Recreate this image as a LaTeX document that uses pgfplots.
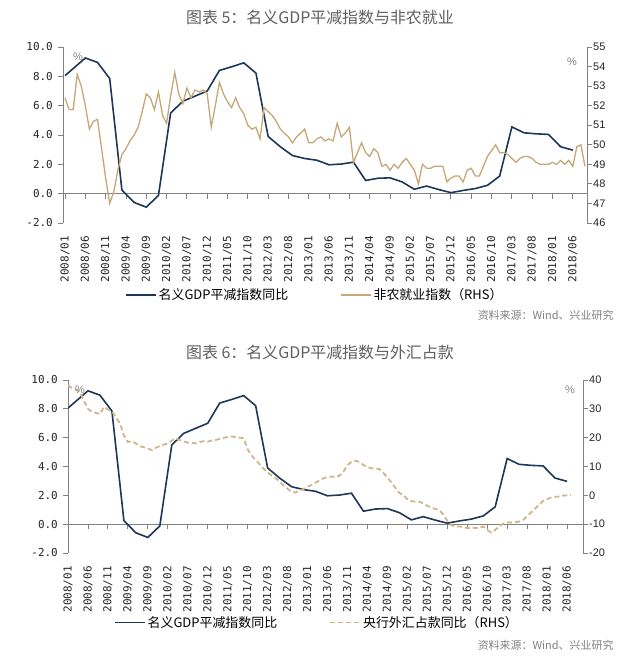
\documentclass[border=0pt]{standalone}
\usepackage{fontspec}
\setmainfont{Liberation Sans}
\newfontfamily\cjk{Noto Sans CJK SC}
\newfontfamily\mono{DejaVu Sans Mono}
\usepackage{pgfplots}
\usepackage{pgfplotstable}
\pgfplotsset{compat=1.18}

\definecolor{navy}{RGB}{30,55,86}
\definecolor{tan}{RGB}{198,167,118}
\definecolor{tandash}{RGB}{206,182,138}
\definecolor{axgray}{RGB}{130,130,130}
\definecolor{titlegray}{RGB}{95,95,95}

% GDP deflator yoy, quarterly, x = months since 2008/01
\pgfplotstableread{
m v
0 8.05
5 9.25
8 8.95
11 7.85
14 0.25
17 -0.60
20 -0.92
23 -0.12
26 5.50
29 6.30
32 6.65
35 7.00
38 8.40
41 8.65
44 8.92
47 8.22
50 3.90
53 3.20
56 2.60
59 2.40
62 2.28
65 1.97
68 2.02
71 2.15
74 0.90
77 1.05
80 1.08
83 0.80
86 0.30
89 0.52
92 0.28
95 0.07
98 0.22
101 0.35
104 0.57
107 1.20
110 4.55
113 4.15
116 4.08
119 4.04
122 3.20
125 2.97
}\deflator

% non-farm index (RHS), monthly
\pgfplotstableread{
m v
0 52.4
1 51.8
2 51.8
3 53.6
4 53.0
5 52.0
6 50.8
7 51.2
8 51.3
9 49.8
10 48.3
11 47.0
12 47.6
13 48.7
14 49.5
15 49.8
16 50.2
17 50.5
18 50.9
19 51.7
20 52.6
21 52.4
22 51.8
23 52.7
24 51.5
25 51.1
26 52.5
27 53.7
28 52.6
29 52.1
30 52.9
31 52.4
32 52.8
33 52.7
34 52.8
35 52.6
36 50.9
37 52.0
38 53.2
39 52.6
40 52.2
41 51.9
42 52.4
43 51.9
44 51.6
45 51.0
46 50.8
47 50.9
48 50.3
49 51.9
50 51.7
51 51.5
52 51.2
53 50.8
54 50.6
55 50.4
56 50.1
57 50.4
58 50.6
59 50.8
60 50.1
61 50.1
62 50.3
63 50.4
64 50.2
65 50.3
66 50.2
67 51.1
68 50.4
69 50.6
70 50.9
71 49.1
72 49.6
73 50.1
74 49.6
75 49.4
76 49.8
77 49.6
78 48.9
79 49.0
80 48.7
81 49.0
82 48.8
83 49.1
84 49.3
85 49.0
86 48.7
87 48.0
88 49.0
89 48.8
90 48.8
91 48.9
92 48.9
93 48.9
94 48.1
95 48.3
96 48.4
97 48.4
98 48.1
99 48.7
100 48.8
101 48.4
102 48.4
103 48.9
104 49.4
105 49.7
106 50.0
107 49.6
108 49.6
109 49.5
110 49.3
111 49.1
112 49.3
113 49.4
114 49.4
115 49.3
116 49.1
117 49.0
118 49.0
119 49.0
120 49.1
121 49.0
122 49.2
123 49.0
124 49.2
125 48.9
126 49.9
127 50.0
128 48.9
}\pmi

% central bank FX holdings yoy (RHS), monthly
\pgfplotstableread{
m v
0 38.2
1 37.2
2 36.5
3 35.9
4 32.8
5 30.0
6 29.0
7 28.6
8 28.2
9 30.7
10 29.8
11 29.2
12 27.0
13 25.0
14 20.8
15 18.5
16 18.8
17 18.0
18 17.0
19 16.7
20 16.2
21 15.7
22 16.5
23 17.1
24 17.6
25 18.0
26 19.0
27 19.8
28 19.2
29 18.7
30 18.3
31 18.2
32 18.0
33 18.5
34 18.8
35 18.6
36 19.0
37 19.2
38 19.6
39 19.9
40 20.3
41 20.4
42 20.2
43 20.0
44 19.8
45 16.0
46 13.8
47 12.3
48 10.8
49 9.2
50 8.0
51 6.8
52 5.9
53 4.8
54 3.4
55 2.3
56 1.1
57 1.0
58 1.6
59 2.2
60 3.0
61 3.6
62 4.4
63 5.2
64 5.9
65 6.4
66 6.5
67 6.3
68 6.8
69 8.2
70 10.5
71 11.6
72 12.0
73 11.6
74 10.5
75 9.8
76 9.4
77 9.3
78 9.1
79 7.8
80 6.2
81 4.5
82 2.6
83 0.8
84 0.1
85 -1.4
86 -2.0
87 -2.2
88 -2.2
89 -2.8
90 -3.6
91 -4.3
92 -4.7
93 -5.1
94 -6.6
95 -8.8
96 -10.3
97 -10.8
98 -10.8
99 -11.0
100 -11.4
101 -11.2
102 -11.3
103 -11.4
104 -10.8
105 -12.0
106 -12.9
107 -12.0
108 -10.8
109 -9.8
110 -9.4
111 -9.4
112 -9.3
113 -9.1
114 -8.5
115 -7.3
116 -5.9
117 -4.6
118 -3.3
119 -1.9
120 -1.3
121 -0.8
122 -0.5
123 -0.4
124 -0.1
125 0.0
126 0.1
}\fx

\pgfplotsset{
  leftax/.style={
    scale only axis,
    axis y line*=left, axis x line*=bottom,
    x axis line style={draw=none},
    y axis line style={draw=axgray, line width=0.9bp},
    xtick={0,5,...,125},
    xticklabels={2008/01,2008/06,2008/11,2009/04,2009/09,2010/02,2010/07,2010/12,2011/05,2011/10,2012/03,2012/08,2013/01,2013/06,2013/11,2014/04,2014/09,2015/02,2015/07,2015/12,2016/05,2016/10,2017/03,2017/08,2018/01,2018/06},
    xtick style={draw=none},
    xticklabel style={rotate=90, anchor=east, inner sep=0pt, font=\mono\fontsize{11}{11}\selectfont, text=black!85},
    xticklabel shift=8bp,
    ytick style={draw=axgray, line width=0.9bp},
    tick align=outside,
    major tick length=5bp,
    yticklabel style={inner sep=0pt, font=\mono\fontsize{11}{11}\selectfont, text=black!85},
    yticklabel shift=5bp,
    unbounded coords=jump,
    /pgf/number format/fixed,
    /pgf/number format/fixed zerofill,
    /pgf/number format/precision=1,
    /pgf/number format/assume math mode=true,
  },
  rightax/.style={
    scale only axis,
    axis y line*=right, axis x line=none,
    y axis line style={draw=axgray, line width=0.9bp},
    ytick style={draw=axgray, line width=0.9bp},
    tick align=outside,
    major tick length=5bp,
    yticklabel style={inner sep=0pt, font=\fontsize{11}{11}\selectfont, text=black!85},
    yticklabel shift=1bp,
    /pgf/number format/assume math mode=true,
    legend columns=2,
    legend image code/.code={\draw[##1] (0bp,0bp) -- (30bp,0bp);},
    legend style={draw=none, fill=none, inner sep=0pt,
      font=\cjk\fontsize{13}{13}\selectfont,
      /tikz/every even column/.append style={column sep=50bp}},
  },
  zeroticks/.style={axgray, line width=0.9bp, no marks, forget plot},
}

\begin{document}
\begin{tikzpicture}
\path[use as bounding box] (0,0) rectangle (640bp,-664bp);

% ---------- chart 5 ----------
\node[font=\cjk\fontsize{16}{16}\selectfont, text=titlegray] at (320bp,-17bp) {图表 5：名义GDP平减指数与非农就业};

\begin{axis}[leftax, at={(63bp,-223bp)}, anchor=south west,
  width=524bp, height=176bp,
  xmin=-0.5, xmax=128.5, ymin=-2, ymax=10, ytick={-2,0,...,10}]
  \addplot[zeroticks] coordinates {(-0.5,0) (128.5,0)};
  \addplot[zeroticks] coordinates {
    (0,0) (0,-0.35) (0,nan) (5,0) (5,-0.35) (5,nan) (10,0) (10,-0.35) (10,nan)
    (15,0) (15,-0.35) (15,nan) (20,0) (20,-0.35) (20,nan) (25,0) (25,-0.35) (25,nan)
    (30,0) (30,-0.35) (30,nan) (35,0) (35,-0.35) (35,nan) (40,0) (40,-0.35) (40,nan)
    (45,0) (45,-0.35) (45,nan) (50,0) (50,-0.35) (50,nan) (55,0) (55,-0.35) (55,nan)
    (60,0) (60,-0.35) (60,nan) (65,0) (65,-0.35) (65,nan) (70,0) (70,-0.35) (70,nan)
    (75,0) (75,-0.35) (75,nan) (80,0) (80,-0.35) (80,nan) (85,0) (85,-0.35) (85,nan)
    (90,0) (90,-0.35) (90,nan) (95,0) (95,-0.35) (95,nan) (100,0) (100,-0.35) (100,nan)
    (105,0) (105,-0.35) (105,nan) (110,0) (110,-0.35) (110,nan) (115,0) (115,-0.35) (115,nan)
    (120,0) (120,-0.35) (120,nan) (125,0) (125,-0.35)};
  \addplot[navy, line width=1.6bp, no marks] table[x=m, y=v] {\deflator};
\end{axis}
\begin{axis}[rightax, at={(63bp,-223bp)}, anchor=south west,
  width=524bp, height=176bp,
  xmin=-0.5, xmax=128.5, ymin=46, ymax=55, ytick={46,...,55},
  legend style={at={(0.118,-0.409)}, anchor=west}]
  \addlegendimage{navy, line width=1.6bp}
  \addlegendentry{名义GDP平减指数同比}
  \addplot[tan, line width=1.3bp, no marks] table[x=m, y=v] {\pmi};
  \addlegendentry{非农就业指数（RHS）}
\end{axis}
\node[text=axgray, font=\fontsize{11}{11}\selectfont] at (78bp,-57bp) {\%};
\node[text=axgray, font=\fontsize{11}{11}\selectfont] at (572bp,-62bp) {\%};
\node[anchor=east, text=gray, font=\cjk\fontsize{11}{11}\selectfont] at (617bp,-315bp) {资料来源：Wind、兴业研究};

% ---------- chart 6 ----------
\node[font=\cjk\fontsize{16}{16}\selectfont, text=titlegray] at (320bp,-352bp) {图表 6：名义GDP平减指数与外汇占款};

\begin{axis}[leftax, at={(68bp,-553bp)}, anchor=south west,
  width=515bp, height=173bp,
  xmin=0, xmax=129, ymin=-2, ymax=10, ytick={-2,0,...,10}]
  \addplot[zeroticks] coordinates {(0,0) (129,0)};
  \addplot[zeroticks] coordinates {
    (0,0) (0,-0.35) (0,nan) (5,0) (5,-0.35) (5,nan) (10,0) (10,-0.35) (10,nan)
    (15,0) (15,-0.35) (15,nan) (20,0) (20,-0.35) (20,nan) (25,0) (25,-0.35) (25,nan)
    (30,0) (30,-0.35) (30,nan) (35,0) (35,-0.35) (35,nan) (40,0) (40,-0.35) (40,nan)
    (45,0) (45,-0.35) (45,nan) (50,0) (50,-0.35) (50,nan) (55,0) (55,-0.35) (55,nan)
    (60,0) (60,-0.35) (60,nan) (65,0) (65,-0.35) (65,nan) (70,0) (70,-0.35) (70,nan)
    (75,0) (75,-0.35) (75,nan) (80,0) (80,-0.35) (80,nan) (85,0) (85,-0.35) (85,nan)
    (90,0) (90,-0.35) (90,nan) (95,0) (95,-0.35) (95,nan) (100,0) (100,-0.35) (100,nan)
    (105,0) (105,-0.35) (105,nan) (110,0) (110,-0.35) (110,nan) (115,0) (115,-0.35) (115,nan)
    (120,0) (120,-0.35) (120,nan) (125,0) (125,-0.35)};
  \addplot[navy, line width=1.6bp, no marks] table[x=m, y=v] {\deflator};
\end{axis}
\begin{axis}[rightax, at={(68bp,-553bp)}, anchor=south west,
  width=515bp, height=173bp,
  xmin=0, xmax=129, ymin=-20, ymax=40, ytick={-20,-10,...,40},
  legend style={at={(0.089,-0.402)}, anchor=west}]
  \addlegendimage{navy, line width=1.6bp}
  \addlegendentry{名义GDP平减指数同比}
  \addplot[tandash, line width=1.8bp, dash pattern=on 5bp off 3bp, no marks] table[x=m, y=v] {\fx};
  \addlegendentry{央行外汇占款同比（RHS）}
\end{axis}
\node[text=axgray, font=\fontsize{11}{11}\selectfont] at (80bp,-390bp) {\%};
\node[text=axgray, font=\fontsize{11}{11}\selectfont] at (570bp,-390bp) {\%};
\node[anchor=east, text=gray, font=\cjk\fontsize{11}{11}\selectfont] at (617bp,-645bp) {资料来源：Wind、兴业研究};
\end{tikzpicture}
\end{document}
